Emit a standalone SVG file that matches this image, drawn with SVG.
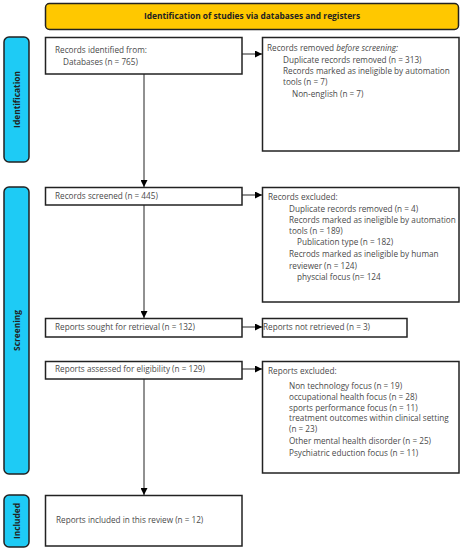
<svg xmlns="http://www.w3.org/2000/svg" width="463" height="550" viewBox="0 0 463 550">
<defs>
<marker id="ah" viewBox="0 0 10 10" refX="10" refY="5" markerWidth="7" markerHeight="7" markerUnits="userSpaceOnUse" orient="auto">
<path d="M0,0 L10,5 L0,10 z" fill="#000"/>
</marker>
</defs>
<style>
.box{fill:#fff;stroke:#222;stroke-width:1.5}
.hdr{fill:#FFC800;stroke:#222;stroke-width:1.5}
.side{fill:#1ECBF5;stroke:#222;stroke-width:1.5}
.t{font-family:"Open Sans","Noto Sans",sans-serif;font-size:8.2px;fill:#4a4a4a}
.b{font-family:"Open Sans","Noto Sans",sans-serif;font-size:8.4px;font-weight:bold;fill:#222}
.c{stroke:#222;stroke-width:1;fill:none;marker-end:url(#ah)}
</style>
<rect width="463" height="550" fill="#fff"/>
<g id="header">
<rect class="hdr" x="45.5" y="3.5" width="413" height="26" rx="4"/>
<text class="b" x="252" y="18.8" text-anchor="middle">Identification of studies via databases and registers</text>
</g>
<g id="side-identification">
<rect class="side" x="4" y="37" width="25" height="125" rx="5"/>
<text class="b" transform="translate(19.5,99.5) rotate(-90)" text-anchor="middle">Identification</text>
</g>
<g id="side-screening">
<rect class="side" x="4" y="187" width="25" height="287" rx="5"/>
<text class="b" transform="translate(19.5,330.5) rotate(-90)" text-anchor="middle">Screening</text>
</g>
<g id="side-included">
<rect class="side" x="4" y="495" width="25" height="52" rx="5"/>
<text class="b" transform="translate(19.5,521) rotate(-90)" text-anchor="middle">Included</text>
</g>
<g id="records-identified">
<rect class="box" x="45.5" y="37.5" width="196.5" height="36.5"/>
<text class="t" x="55" y="53">Records identified from:</text>
<text class="t" x="63" y="65">Databases (n = 765)</text>
</g>
<g id="records-removed">
<rect class="box" x="262.5" y="37.5" width="196.5" height="113.5"/>
<text class="t" x="267" y="51"><tspan>Records removed </tspan><tspan font-style="italic">before screening:</tspan></text>
<text class="t" x="283" y="62.5">Duplicate records removed (n = 313)</text>
<text class="t" x="283" y="74">Records marked as ineligible by automation</text>
<text class="t" x="283" y="85.3">tools (n = 7)</text>
<text class="t" x="292" y="96.7">Non-english (n = 7)</text>
</g>
<g id="records-screened">
<rect class="box" x="45.5" y="187.5" width="196.5" height="17.5"/>
<text class="t" x="55" y="198.8">Records screened (n = 445)</text>
</g>
<g id="records-excluded">
<rect class="box" x="262.5" y="187.5" width="196.5" height="114.5"/>
<text class="t" x="268" y="199.6">Records excluded:</text>
<text class="t" x="289" y="212">Duplicate records removed (n = 4)</text>
<text class="t" x="289" y="223">Records marked as ineligible by automation</text>
<text class="t" x="289" y="234.2">tools (n = 189)</text>
<text class="t" x="297" y="245.2">Publication type (n = 182)</text>
<text class="t" x="289" y="257.2">Recrods marked as ineligible by human</text>
<text class="t" x="289" y="268.6">reviewer (n = 124)</text>
<text class="t" x="297" y="280.2">physcial focus (n= 124</text>
</g>
<g id="reports-sought">
<rect class="box" x="45.5" y="318.5" width="196.5" height="18.5"/>
<text class="t" x="55" y="329.8">Reports sought for retrieval (n = 132)</text>
</g>
<g id="reports-not-retrieved">
<rect class="box" x="262.5" y="318.5" width="144.5" height="18.5"/>
<text class="t" x="263" y="329.8">Reports not retrieved (n = 3)</text>
</g>
<g id="reports-assessed">
<rect class="box" x="45.5" y="361.5" width="196.5" height="17.5"/>
<text class="t" x="55" y="372.3">Reports assessed for eligibility (n = 129)</text>
</g>
<g id="reports-excluded">
<rect class="box" x="262.5" y="361.5" width="196.5" height="111.5"/>
<text class="t" x="268" y="373.8">Reports excluded:</text>
<text class="t" x="289" y="388.6">Non technology focus (n = 19)</text>
<text class="t" x="289" y="399.6">occupational health focus (n = 28)</text>
<text class="t" x="289" y="410.6">sports performance focus (n = 11)</text>
<text class="t" x="289" y="421.2">treatment outcomes within clinical setting</text>
<text class="t" x="289" y="432.2">(n = 23)</text>
<text class="t" x="289" y="443.9">Other mental health disorder (n = 25)</text>
<text class="t" x="289" y="455.6">Psychiatric eduction focus (n = 11)</text>
</g>
<g id="reports-included">
<rect class="box" x="45.5" y="495.5" width="196.5" height="50.5"/>
<text class="t" x="56" y="522.9">Reports included in this review  (n = 12)</text>
</g>
<g id="connectors">
<line class="c" x1="144" y1="74" x2="144" y2="187"/>
<line class="c" x1="144" y1="205" x2="144" y2="318"/>
<line class="c" x1="144" y1="379" x2="144" y2="495"/>
<line class="c" x1="242" y1="54" x2="262" y2="54"/>
<line class="c" x1="242" y1="195" x2="262" y2="195"/>
<line class="c" x1="242" y1="327" x2="262" y2="327"/>
<line class="c" x1="242" y1="369" x2="262" y2="369"/>
</g>
</svg>
